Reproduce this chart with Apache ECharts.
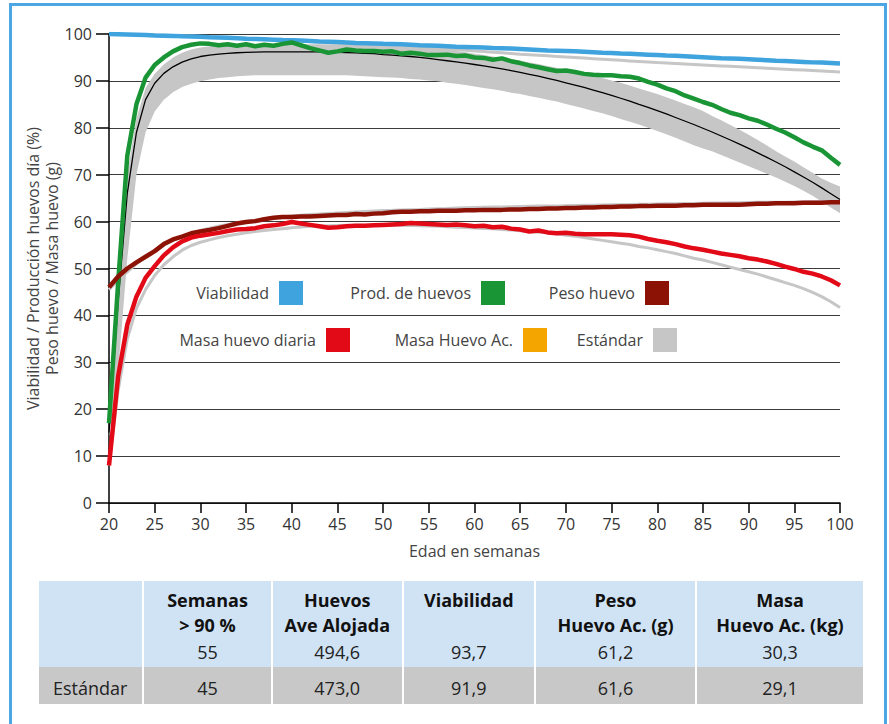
<!DOCTYPE html>
<html><head><meta charset="utf-8">
<script src="https://cdn.jsdelivr.net/npm/echarts@6/dist/echarts.min.js"></script>
<style>
html,body{margin:0;padding:0;background:#fff;}
#wrap{position:relative;width:889px;height:724px;overflow:hidden;font-family:'Open Sans',sans-serif;background:#fff;}
#chart{position:absolute;left:0;top:0;width:889px;height:724px;}
#frame{position:absolute;left:9px;top:3px;width:878px;height:780px;border:3px solid #4BA6E3;box-sizing:border-box;pointer-events:none;}
.cell{position:absolute;}
.txt{position:absolute;text-align:center;white-space:nowrap;font-size:18px;line-height:24px;color:#222;}
.hd{font-weight:bold;color:#111;}
</style></head>
<body><div id="wrap"><div id="chart"></div><div id="frame"></div><div id="table"></div></div>
<script>
const weeks = [20,21,22,23,24,25,26,27,28,29,30,31,32,33,34,35,36,37,38,39,40,41,42,43,44,45,46,47,48,49,50,51,52,53,54,55,56,57,58,59,60,61,62,63,64,65,66,67,68,69,70,71,72,73,74,75,76,77,78,79,80,81,82,83,84,85,86,87,88,89,90,91,92,93,94,95,96,97,98,99,100];
const yTicks = [0,10,20,30,40,50,60,70,80,90,100];

const viabilidad = [100,99.95,99.9,99.85,99.8,99.7,99.65,99.6,99.5,99.45,
 99.4,99.3,99.25,99.2,99.1,99.0,98.95,98.9,98.8,98.7,
 98.65,98.6,98.5,98.4,98.35,98.3,98.2,98.1,98.05,98.0,
 97.9,97.85,97.8,97.7,97.6,97.55,97.5,97.4,97.3,97.25,
 97.2,97.1,97.0,96.95,96.9,96.8,96.7,96.6,96.5,96.45,
 96.4,96.3,96.2,96.1,96.0,95.95,95.85,95.8,95.7,95.6,
 95.5,95.4,95.35,95.25,95.15,95.05,94.95,94.85,94.8,94.7,
 94.6,94.5,94.4,94.3,94.25,94.15,94.05,93.95,93.9,93.8,
 93.7];
const stdViabilidad = [100,99.97,99.93,99.9,99.85,99.8,99.75,99.7,99.62,99.55,
 99.48,99.4,99.32,99.24,99.16,99.08,99.0,98.9,98.8,98.7,
 98.6,98.5,98.4,98.3,98.2,98.1,98.0,97.9,97.8,97.7,
 97.6,97.48,97.36,97.24,97.12,97.0,96.88,96.76,96.64,96.52,
 96.4,96.26,96.12,95.98,95.84,95.7,95.58,95.46,95.34,95.22,
 95.1,94.98,94.86,94.74,94.62,94.5,94.38,94.26,94.14,94.02,
 93.9,93.8,93.7,93.6,93.5,93.4,93.3,93.2,93.1,93.0,
 92.9,92.8,92.7,92.6,92.5,92.4,92.3,92.2,92.1,92.0,
 91.9];
const produccion = [17,47,74,85,90.7,93.4,95.0,96.3,97.2,97.7,
 98.0,97.9,97.6,97.8,97.5,97.8,97.4,97.7,97.5,97.9,
 98.2,97.6,97.0,96.5,96.0,96.3,96.7,96.5,96.4,96.4,
 96.2,96.3,95.8,96.0,95.8,95.5,95.5,95.6,95.3,95.4,
 95.0,94.9,94.5,94.8,94.2,93.8,93.3,92.9,92.5,92.1,
 92.2,91.9,91.5,91.3,91.2,91.2,91.0,90.9,90.5,89.8,
 89.2,88.4,87.8,86.9,86.2,85.5,84.9,84.0,83.2,82.7,
 82.0,81.5,80.7,79.8,79.0,78.0,76.9,76.0,75.2,73.6,
 72.1];
const stdProduccion = [15,43,66,79,86,89.5,91.6,93.0,94.0,94.7,
 95.2,95.5,95.7,95.85,96.0,96.1,96.15,96.2,96.2,96.2,
 96.2,96.2,96.2,96.2,96.2,96.1,96.05,96.0,95.9,95.8,
 95.6,95.5,95.35,95.2,95.0,94.8,94.55,94.3,94.05,93.8,
 93.5,93.2,92.9,92.55,92.2,91.8,91.4,91.0,90.55,90.1,
 89.6,89.1,88.6,88.05,87.5,86.9,86.3,85.7,85.0,84.35,
 83.65,82.95,82.2,81.45,80.7,79.9,79.1,78.25,77.4,76.5,
 75.6,74.65,73.7,72.7,71.7,70.6,69.5,68.4,67.2,65.95,
 64.7];
const stdProdUpper = [17,48,70,82,88.5,91.5,93.5,95.0,96.0,96.7,
 97.1,97.4,97.6,97.7,97.8,97.8,97.8,97.8,97.8,97.8,
 97.8,97.8,97.8,97.8,97.8,97.8,97.8,97.8,97.8,97.7,
 97.6,97.5,97.4,97.3,97.2,97.0,96.8,96.6,96.4,96.1,
 95.8,95.5,95.2,94.9,94.6,94.3,93.9,93.6,93.2,92.8,
 92.4,92.0,91.6,91.1,90.6,90.1,89.6,89.0,88.4,87.8,
 87.2,86.5,85.8,85.1,84.4,83.6,82.5,81.6,80.6,79.6,
 78.5,77.4,76.2,75.0,73.9,72.8,71.6,70.4,69.2,68.3,
 67.5];
const stdProdLower = [14,28,52,70,79,83.5,86,87.6,88.7,89.4,
 89.9,90.3,90.6,90.8,91.0,91.1,91.2,91.2,91.2,91.2,
 91.2,91.2,91.2,91.2,91.2,91.2,91.2,91.1,91.0,90.9,
 90.8,90.7,90.6,90.4,90.3,90.1,89.9,89.6,89.4,89.1,
 88.8,88.5,88.2,87.9,87.5,87.2,86.8,86.4,86.0,85.6,
 85.1,84.6,84.1,83.6,83.1,82.5,81.9,81.3,80.7,80.0,
 79.3,78.6,77.9,77.1,76.3,75.6,75.0,74.2,73.4,72.6,
 71.8,71.0,70.2,69.4,68.5,67.6,66.6,65.5,64.3,63.0,
 61.8];
const pesoHuevo = [46,48.3,50.0,51.3,52.5,53.7,55.2,56.2,56.8,57.5,
 57.9,58.2,58.6,59.1,59.6,59.9,60.1,60.5,60.8,61.0,
 61.0,61.1,61.1,61.2,61.3,61.4,61.4,61.6,61.5,61.7,
 61.8,62.0,62.1,62.1,62.2,62.2,62.3,62.3,62.3,62.4,
 62.4,62.5,62.5,62.5,62.6,62.6,62.7,62.7,62.8,62.8,
 62.9,62.9,63.0,63.0,63.1,63.1,63.2,63.2,63.3,63.3,
 63.4,63.4,63.4,63.5,63.5,63.6,63.6,63.6,63.6,63.6,
 63.7,63.8,63.8,63.9,63.9,63.9,64.0,64.0,64.0,64.1,
 64.1];
const stdPeso = [45.5,47.5,49.3,51.0,52.5,53.8,55.0,56.0,56.8,57.5,
 58.1,58.6,59.0,59.4,59.7,60.0,60.3,60.6,60.8,61.0,
 61.2,61.35,61.5,61.6,61.75,61.85,61.95,62.05,62.15,62.25,
 62.35,62.4,62.5,62.55,62.6,62.7,62.75,62.8,62.9,62.95,
 63.0,63.05,63.1,63.1,63.15,63.2,63.25,63.3,63.3,63.35,
 63.4,63.45,63.5,63.5,63.55,63.6,63.6,63.65,63.7,63.7,
 63.75,63.8,63.8,63.85,63.85,63.9,63.95,63.95,64.0,64.0,
 64.05,64.1,64.1,64.15,64.15,64.2,64.2,64.25,64.25,64.3,
 64.3];
const masaHuevo = [8,27,38,44,48,50.5,52.8,54.5,55.8,56.6,
 57.0,57.3,57.6,58.0,58.3,58.4,58.6,59.0,59.2,59.5,
 59.9,59.6,59.3,59.0,58.7,58.8,59.0,59.1,59.1,59.2,
 59.3,59.4,59.5,59.7,59.6,59.5,59.4,59.3,59.4,59.2,
 59.0,59.1,58.8,58.9,58.5,58.3,57.9,58.1,57.7,57.5,
 57.6,57.4,57.3,57.3,57.3,57.3,57.2,57.1,56.8,56.3,
 55.9,55.6,55.2,54.7,54.3,54.0,53.6,53.2,52.9,52.6,
 52.2,51.9,51.5,51.0,50.4,49.9,49.3,48.9,48.3,47.5,
 46.4];
const stdMasa = [8,24,35,41.5,45.5,48.5,50.8,52.5,53.9,54.9,
 55.6,56.1,56.6,57.0,57.3,57.6,57.9,58.1,58.3,58.5,
 58.7,58.85,59.0,59.05,59.1,59.15,59.2,59.2,59.2,59.2,
 59.2,59.2,59.2,59.15,59.1,59.05,59.0,58.9,58.8,58.75,
 58.65,58.55,58.45,58.3,58.2,58.05,57.9,57.75,57.6,57.4,
 57.1,56.9,56.6,56.3,56.0,55.7,55.4,55.1,54.7,54.4,
 54.0,53.6,53.2,52.7,52.2,51.8,51.3,50.8,50.3,49.8,
 49.3,48.8,48.2,47.6,47.0,46.4,45.7,44.9,44.0,42.9,
 41.7];
const masaHuevoAc = [];

const tableHeaders = [[], ['Semanas','> 90 %'], ['Huevos','Ave Alojada'], ['Viabilidad'], ['Peso','Huevo Ac. (g)'], ['Masa','Huevo Ac. (kg)']];
const tableValues = ['', '55', '494,6', '93,7', '61,2', '30,3'];
const tableStandard = ['Estándar', '45', '473,0', '91,9', '61,6', '29,1'];

const C = {viab:'#3FA3DE', prod:'#1A9535', peso:'#8C1206', masa:'#E30A17', masaAc:'#F5A500', std:'#C6C6C6'};
const FONT = "'Open Sans', sans-serif";

const chart = echarts.init(document.getElementById('chart'), null, {renderer:'svg'});
function line(name, data, color, width, z){
  return {type:'line', name, data, showSymbol:false, symbol:'none', z:z||2,
    lineStyle:{color, width}, itemStyle:{color}, animation:false, emphasis:{disabled:true}};
}
function leg(name, color, right, top){
  return {data:[{name, itemStyle:{color, borderWidth:0}}], right, top, padding:0, icon:'rect',
    itemWidth:24, itemHeight:24, align:'right', selectedMode:false,
    textStyle:{fontSize:16, color:'#444', fontFamily:FONT, padding:[0,5,0,0]}};
}
const bandDiff = stdProdUpper.map((v,i)=>+(v - stdProdLower[i]).toFixed(2));
chart.setOption({
  animation:false,
  textStyle:{fontFamily:FONT},
  grid:{left:109, right:49, top:34, bottom:221, containLabel:false, outerBoundsMode:'none'},
  legend:[
    leg('Viabilidad', C.viab, 586, 281),
    leg('Prod. de huevos', C.prod, 384, 281),
    leg('Peso huevo', C.peso, 220, 281),
    leg('Masa huevo diaria', C.masa, 539, 328),
    leg('Masa Huevo Ac.', C.masaAc, 342, 328),
    leg('Estándar', C.std, 212, 328)
  ],
  xAxis:{type:'category', data:weeks, boundaryGap:false,
    axisLine:{lineStyle:{color:'#000', width:1.5}},
    axisTick:{interval:(i)=>i%5===0, length:10, lineStyle:{color:'#000', width:1.5}},
    axisLabel:{interval:(i)=>i%5===0, margin:13, fontSize:16, color:'#333'},
    splitLine:{show:false},
    name:'Edad en semanas', nameLocation:'middle', nameGap:40, nameMoveOverlap:false,
    nameTextStyle:{fontSize:16, color:'#444'}},
  yAxis:{type:'value', min:yTicks[0], max:yTicks[yTicks.length-1], interval:10,
    axisLine:{show:true, lineStyle:{color:'#000', width:1.5}},
    axisTick:{show:true, length:13, lineStyle:{color:'#000', width:1.5}},
    axisLabel:{margin:17, fontSize:16, color:'#333'},
    splitLine:{show:true, lineStyle:{color:'#3a3a3a', width:1}},
    name:'Viabilidad / Producción huevos día (%)\nPeso huevo / Masa huevo (g)',
    nameLocation:'middle', nameRotate:90, nameGap:48, nameMoveOverlap:false,
    nameTextStyle:{fontSize:16, color:'#444', lineHeight:19, align:'center'}},
  series:[
    {type:'line', name:'Estándar', data:stdProdLower, stack:'band', showSymbol:false, symbol:'none',
      lineStyle:{width:0, opacity:0}, itemStyle:{color:C.std}, z:1, emphasis:{disabled:true}},
    {type:'line', name:'Estándar', data:bandDiff, stack:'band', showSymbol:false, symbol:'none',
      lineStyle:{width:0, opacity:0}, itemStyle:{color:C.std}, areaStyle:{color:C.std, opacity:1}, z:1, emphasis:{disabled:true}},
    line('Estándar', stdViabilidad, C.std, 3),
    line('Estándar', stdPeso, C.std, 3),
    line('Estándar', stdMasa, C.std, 3),
    line('Estándar', stdProduccion, '#000', 1.3),
    line('Viabilidad', viabilidad, C.viab, 4.5, 3),
    line('Prod. de huevos', produccion, C.prod, 4.5, 3),
    line('Peso huevo', pesoHuevo, C.peso, 4.5, 3),
    line('Masa huevo diaria', masaHuevo, C.masa, 4.5, 3),
    line('Masa Huevo Ac.', masaHuevoAc, C.masaAc, 4.5, 3)
  ]
});

// table
const colEdges = [38.5, 143, 272, 402.5, 535, 696, 863];
const rowTop = 581, rowMid = 667, rowBot = 704;
const tbl = document.getElementById('table');
function add(cls, css, text){
  const d = document.createElement('div'); d.className = cls;
  Object.assign(d.style, css); if (text !== undefined) d.textContent = text; tbl.appendChild(d); return d;
}
for (let c = 0; c < 6; c++){
  const x0 = colEdges[c] + (c ? 1 : 0), x1 = colEdges[c+1] - (c < 5 ? 1 : 0);
  add('cell', {left:x0+'px', top:rowTop+'px', width:(x1-x0)+'px', height:(rowMid-rowTop)+'px', background:'#D0E3F5'});
  add('cell', {left:x0+'px', top:rowMid+'px', width:(x1-x0)+'px', height:(rowBot-rowMid)+'px', background:'#C8C8C8'});
  tableHeaders[c].forEach((t, k) => add('txt hd', {left:x0+'px', width:(x1-x0)+'px', top:(588 + k*25)+'px'}, t));
  add('txt', {left:x0+'px', width:(x1-x0)+'px', top:'640px'}, tableValues[c]);
  add('txt', {left:x0+'px', width:(x1-x0)+'px', top:'676px'}, tableStandard[c]);
}
</script></body></html>
